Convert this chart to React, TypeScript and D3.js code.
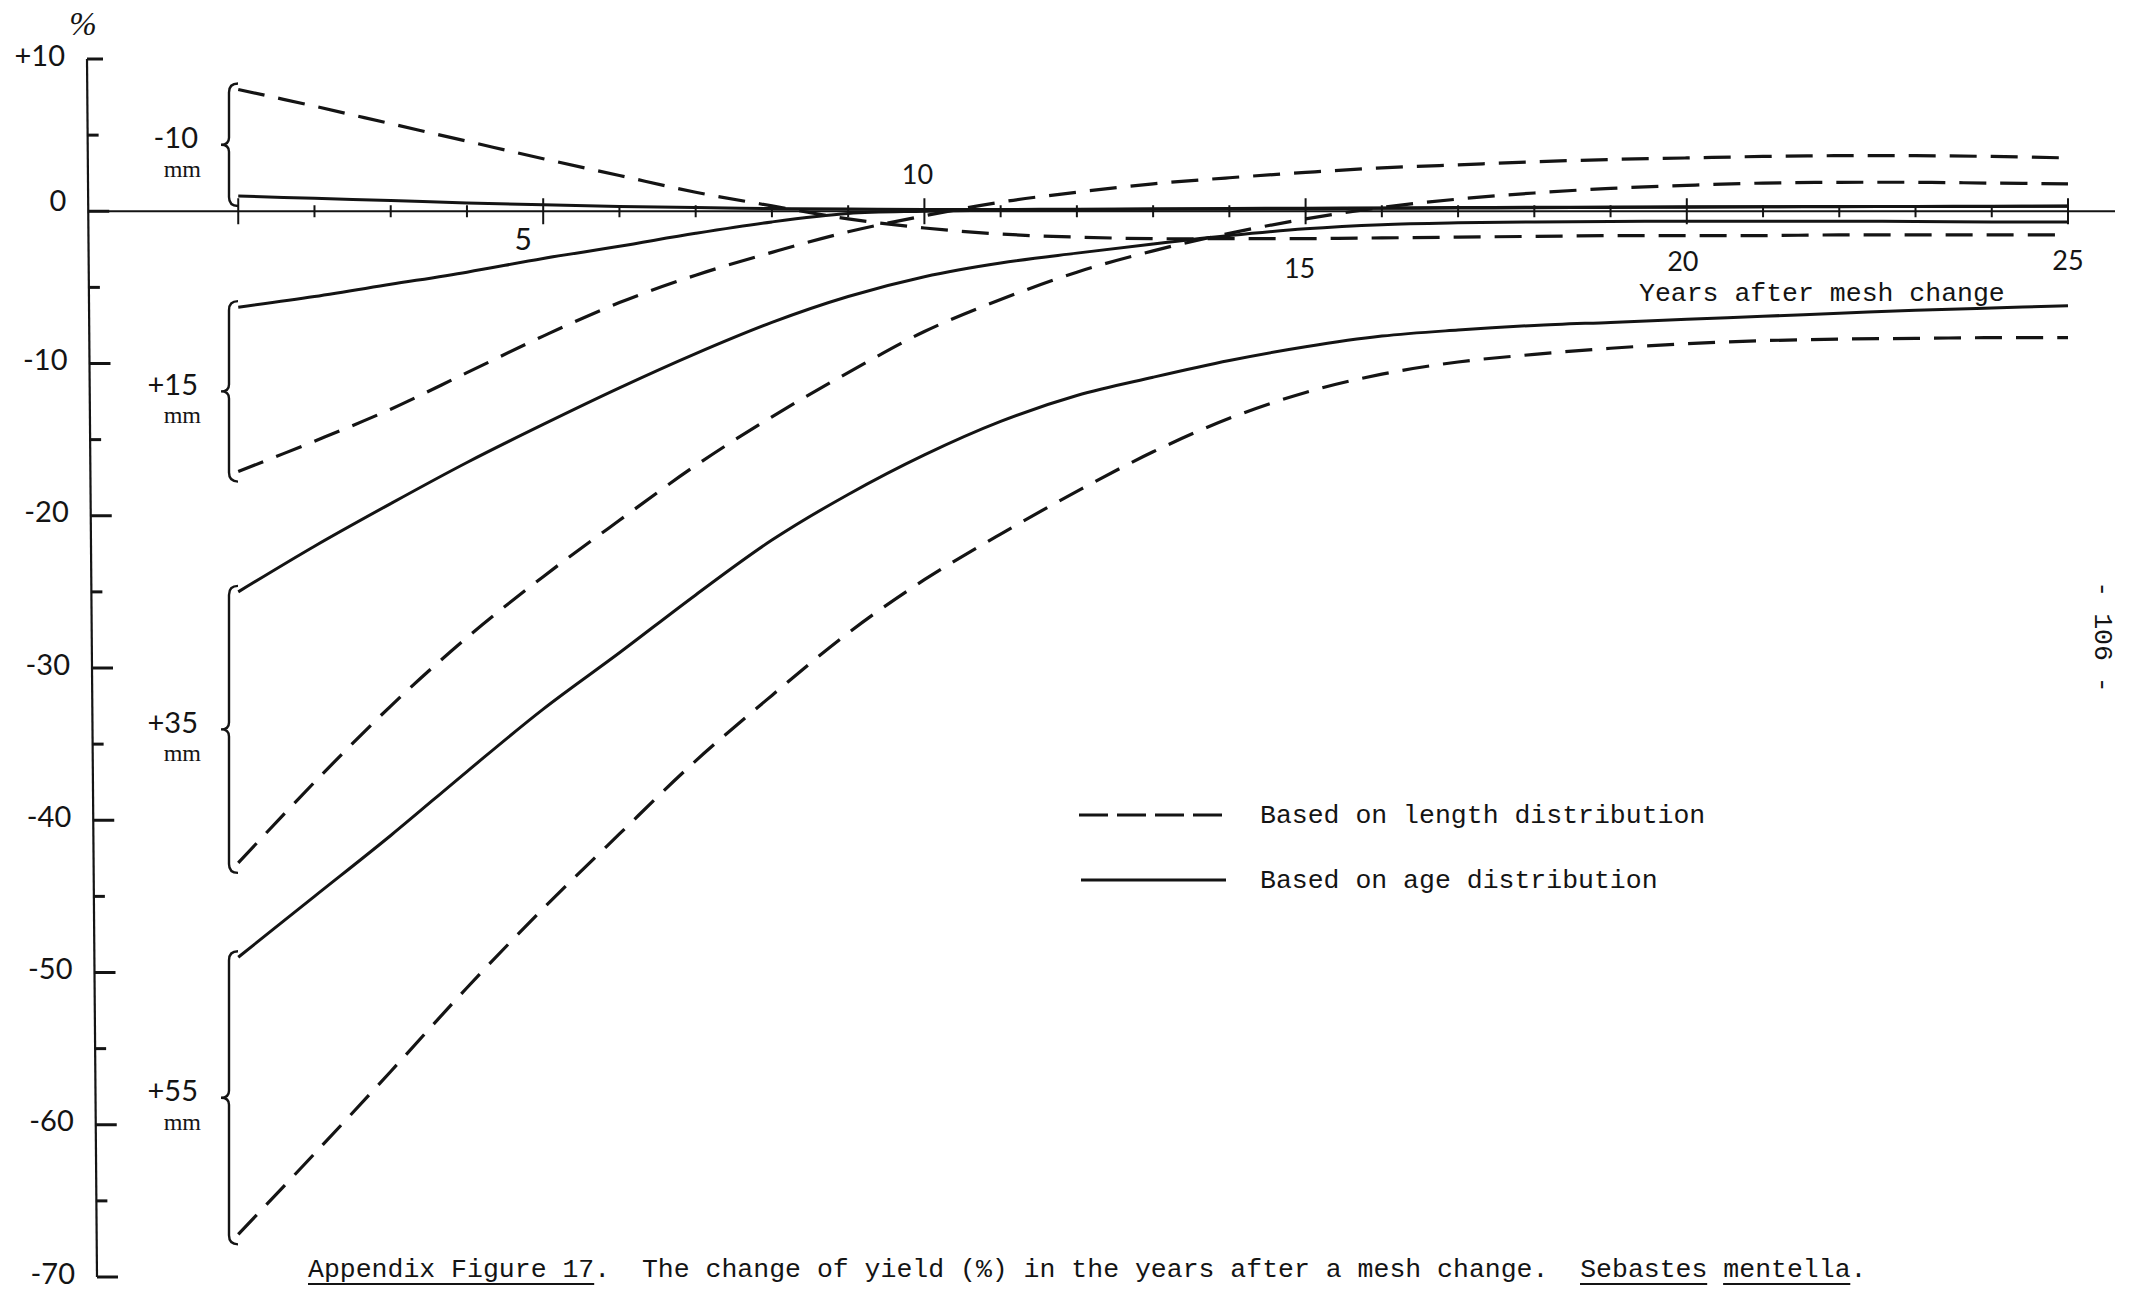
import React, { useEffect } from 'react';
import * as d3 from 'd3';

// ---------- data ----------
const years = [1, 2, 3, 4, 5, 6, 7, 8, 9, 10, 11, 12, 13, 14, 15, 16, 17, 18, 19, 20, 21, 22, 23, 24, 25];

const meshGroups = ['-10', '+15', '+35', '+55'];
const meshUnit = 'mm';

// based on length distribution (dashed)
const lengthMinus10 = [8.0, 6.9, 5.75, 4.6, 3.45, 2.35, 1.25, 0.35, -0.5, -1.1, -1.5, -1.7, -1.8, -1.8, -1.8, -1.75, -1.7, -1.65, -1.6, -1.6, -1.6, -1.55, -1.55, -1.55, -1.55];
const lengthPlus15 = [-17.1, -15.1, -13.0, -10.6, -8.2, -6.0, -4.2, -2.7, -1.35, -0.3, 0.6, 1.25, 1.8, 2.2, 2.55, 2.85, 3.05, 3.25, 3.4, 3.5, 3.6, 3.65, 3.65, 3.6, 3.5];
const lengthPlus35 = [-42.8, -37.5, -32.5, -28.0, -24.0, -20.3, -16.7, -13.5, -10.6, -7.9, -5.8, -4.0, -2.6, -1.45, -0.5, 0.25, 0.8, 1.2, 1.5, 1.7, 1.85, 1.9, 1.9, 1.85, 1.8];
const lengthPlus55 = [-67.2, -61.9, -56.5, -51.0, -45.8, -40.9, -36.1, -31.8, -27.7, -24.2, -21.2, -18.4, -15.8, -13.6, -11.9, -10.7, -9.9, -9.4, -9.0, -8.7, -8.5, -8.4, -8.35, -8.3, -8.3];

// based on age distribution (solid)
const ageMinus10 = [1.0, 0.85, 0.7, 0.55, 0.42, 0.32, 0.24, 0.18, 0.14, 0.12, 0.12, 0.13, 0.14, 0.15, 0.17, 0.19, 0.21, 0.23, 0.25, 0.27, 0.29, 0.3, 0.31, 0.32, 0.33];
const agePlus15 = [-6.3, -5.6, -4.8, -4.0, -3.1, -2.3, -1.45, -0.7, -0.15, 0.0, 0.08, 0.12, 0.15, 0.18, 0.2, 0.22, 0.24, 0.26, 0.28, 0.29, 0.3, 0.31, 0.32, 0.33, 0.34];
const agePlus35 = [-25.0, -22.0, -19.2, -16.5, -14.0, -11.6, -9.35, -7.3, -5.6, -4.3, -3.4, -2.75, -2.15, -1.6, -1.15, -0.88, -0.76, -0.7, -0.67, -0.65, -0.65, -0.65, -0.67, -0.7, -0.7];
const agePlus55 = [-49.0, -45.0, -41.0, -36.8, -32.7, -29.0, -25.2, -21.6, -18.6, -16.0, -13.8, -12.1, -10.9, -9.8, -8.9, -8.2, -7.8, -7.5, -7.3, -7.1, -6.9, -6.7, -6.5, -6.35, -6.2];

const yMajorTicks = [10, 0, -10, -20, -30, -40, -50, -60, -70];
const yMajorLabels = ['+10', '0', '-10', '-20', '-30', '-40', '-50', '-60', '-70'];
const yMinorTicks = [5, -5, -15, -25, -35, -45, -55, -65];
const xTicks = [1, 2, 3, 4, 5, 6, 7, 8, 9, 10, 11, 12, 13, 14, 15, 16, 17, 18, 19, 20, 21, 22, 23, 24, 25];
const xMajorTicks = [1, 5, 10, 15, 20, 25];
const xTickLabels = [5, 10, 15, 20, 25];

const yUnitLabel = '%';
const xAxisTitle = 'Years after mesh change';
const legendLabels = ['Based on length distribution', 'Based on age distribution'];
const captionParts = ['Appendix Figure 17', '.  The change of yield (%) in the years after a mesh change.  ', 'Sebastes', ' ', 'mentella', '.'];
const captionUnderlined = [true, false, true, false, true, false];
const pageNumber = '- 106 -';

// ---------- layout / style (not data) ----------
const W = 2131;
const H = 1289;
const INK = '#141414';
const MONO = '"Liberation Mono", "DejaVu Sans Mono", monospace';
const SANS = 'Lato, "DejaVu Sans", sans-serif';
const SERIF = '"Liberation Serif", "DejaVu Serif", serif';
const MONO_SIZE = 26.5;
const MONO_CHAR = MONO_SIZE * 0.6;
// per-label nudges of the hand-lettered x tick labels (dx, dy from tick on axis)
const xLabelNudge: Record<number, [number, number]> = { 5: [-20, 27], 10: [-7, -38], 15: [-6, 56], 20: [-4, 49], 25: [0, 48] };

export default function App() {
  useEffect(() => {
    document.body.style.margin = '0';
    document.body.style.background = '#fff';
  }, []);

  const x = d3.scaleLinear().domain([0, 25]).range([162, 2068]);
  const y = d3.scaleLinear().domain([10, -70]).range([59, 1277]);
  // y axis is drawn slightly slanted like the scanned original
  const axisX = (v: number) => 87 + ((10 - v) / 80) * 10;
  const y0 = y(0);

  const line = d3
    .line<number>()
    .x((_, i) => x(years[i]))
    .y((d) => y(d))
    .curve(d3.curveCatmullRom.alpha(0.5));

  const groups = [
    { name: meshGroups[0], length: lengthMinus10, age: ageMinus10 },
    { name: meshGroups[1], length: lengthPlus15, age: agePlus15 },
    { name: meshGroups[2], length: lengthPlus35, age: agePlus35 },
    { name: meshGroups[3], length: lengthPlus55, age: agePlus55 },
  ];

  const bx = 229;

  const bracePath = (top: number, bottom: number) => {
    const mid = (top + bottom) / 2;
    return `M${bx + 9},${top} Q${bx},${top} ${bx},${top + 9} L${bx},${mid - 7} Q${bx},${mid} ${bx - 8},${mid} Q${bx},${mid} ${bx},${mid + 7} L${bx},${bottom - 9} Q${bx},${bottom} ${bx + 9},${bottom}`;
  };

  // caption underline positions
  const capX = 308;
  const capBase = 1277;
  let charPos = 0;
  const capSegs = captionParts.map((p, i) => {
    const seg = { start: charPos, len: p.length, u: captionUnderlined[i] };
    charPos += p.length;
    return seg;
  });

  return (
    <svg width={W} height={H} viewBox={`0 0 ${W} ${H}`} style={{ position: 'absolute', left: 0, top: 0, background: '#fff' }}>
      <rect x={0} y={0} width={W} height={H} fill="#fff" />

      {/* y axis */}
      <line x1={axisX(10)} y1={y(10)} x2={axisX(-70)} y2={y(-70)} stroke={INK} strokeWidth={2.2} />
      {yMajorTicks.map((t) => (
        <line key={'ymaj' + t} x1={axisX(t)} y1={y(t)} x2={axisX(t) + (t === 10 ? 16 : 21)} y2={y(t)} stroke={INK} strokeWidth={3} />
      ))}
      {yMinorTicks.map((t) => (
        <line key={'ymin' + t} x1={axisX(t)} y1={y(t)} x2={axisX(t) + 11} y2={y(t)} stroke={INK} strokeWidth={3} />
      ))}
      {yMajorLabels.map((lab, i) => {
        const t = yMajorTicks[i];
        return (
          <text
            key={'ylab' + t}
            x={axisX(t) - 22}
            y={y(t) - (t === 0 ? 12 : 5)}
            textAnchor="end"
            dominantBaseline="central"
            fontFamily={SANS}
            fontSize={29}
            fill={INK}
          >
            {lab}
          </text>
        );
      })}
      <text x={83} y={24} textAnchor="middle" dominantBaseline="central" fontFamily={SERIF} fontStyle="italic" fontSize={33} fill={INK}>
        {yUnitLabel}
      </text>

      {/* x axis */}
      <line x1={axisX(0)} y1={y0} x2={2115} y2={y0} stroke={INK} strokeWidth={2} />
      {xTicks.map((t) => {
        const long = xMajorTicks.includes(t);
        const h = long ? 13 : 6;
        return <line key={'xt' + t} x1={x(t)} y1={y0 - h} x2={x(t)} y2={y0 + h} stroke={INK} strokeWidth={2} />;
      })}
      {xTickLabels.map((t) => (
        <text
          key={'xl' + t}
          x={x(t) + xLabelNudge[t][0]}
          y={y0 + xLabelNudge[t][1]}
          textAnchor="middle"
          dominantBaseline="central"
          fontFamily={SANS}
          fontSize={t === 5 ? 30 : 27}
          fill={INK}
        >
          {t}
        </text>
      ))}
      <text x={1639} y={301} fontFamily={MONO} fontSize={MONO_SIZE} fill={INK}>
        {xAxisTitle}
      </text>

      {/* curves */}
      {groups.map((g) => (
        <g key={'g' + g.name}>
          <path d={line(g.length) || ''} fill="none" stroke={INK} strokeWidth={3.2} strokeDasharray="27 14" />
          <path d={line(g.age) || ''} fill="none" stroke={INK} strokeWidth={3} />
        </g>
      ))}

      {/* braces and group labels */}
      {groups.map((g) => {
        const top = y(Math.max(g.length[0], g.age[0])) - 6;
        const bottom = y(Math.min(g.length[0], g.age[0])) + 10;
        const mid = (top + bottom) / 2;
        return (
          <g key={'b' + g.name}>
            <path d={bracePath(top, bottom)} fill="none" stroke={INK} strokeWidth={2.4} />
            <text x={198} y={mid - 8} textAnchor="end" dominantBaseline="central" fontFamily={SANS} fontSize={29} fill={INK}>
              {g.name}
            </text>
            <text x={201} y={mid + 24} textAnchor="end" dominantBaseline="central" fontFamily={SERIF} fontSize={24} fill={INK}>
              {meshUnit}
            </text>
          </g>
        );
      })}

      {/* legend */}
      <line x1={1079} y1={815} x2={1224} y2={815} stroke={INK} strokeWidth={3.2} strokeDasharray="29 9" />
      <text x={1260} y={823} fontFamily={MONO} fontSize={MONO_SIZE} fill={INK}>
        {legendLabels[0]}
      </text>
      <line x1={1081} y1={880} x2={1226} y2={880} stroke={INK} strokeWidth={3.2} />
      <text x={1260} y={888} fontFamily={MONO} fontSize={MONO_SIZE} fill={INK}>
        {legendLabels[1]}
      </text>

      {/* caption */}
      <text x={capX} y={capBase} fontFamily={MONO} fontSize={MONO_SIZE} fill={INK} style={{ whiteSpace: 'pre' }} xmlSpace="preserve">
        {captionParts.join('')}
      </text>
      {capSegs
        .filter((s) => s.u)
        .map((s, i) => (
          <line
            key={'ul' + i}
            x1={capX + s.start * MONO_CHAR}
            y1={capBase + 7}
            x2={capX + (s.start + s.len) * MONO_CHAR}
            y2={capBase + 7}
            stroke={INK}
            strokeWidth={2}
          />
        ))}

      {/* page number */}
      <text
        x={0}
        y={0}
        transform={`translate(2102,637) rotate(90)`}
        textAnchor="middle"
        dominantBaseline="central"
        fontFamily={MONO}
        fontSize={MONO_SIZE}
        fill={INK}
        style={{ whiteSpace: 'pre' }}
        xmlSpace="preserve"
      >
        {pageNumber}
      </text>
    </svg>
  );
}
